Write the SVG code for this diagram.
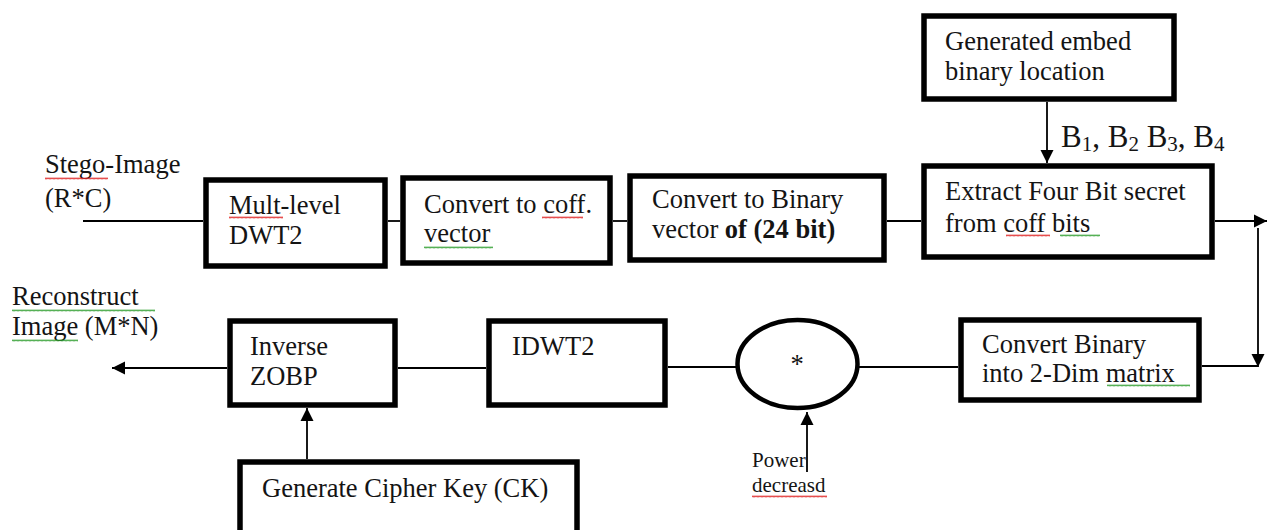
<svg xmlns="http://www.w3.org/2000/svg" width="1269" height="530" viewBox="0 0 1269 530">
<style>
.box{fill:#fff;stroke:#000;stroke-width:5.5}
.ln{fill:none;stroke:#000;stroke-width:1.8}
.t{font-family:"Liberation Serif","Times New Roman",serif;font-size:26.5px;fill:#141414}
.sm{font-size:21px}
.b{font-weight:bold}
</style>
<defs>
<marker id="ah" markerUnits="userSpaceOnUse" markerWidth="14" markerHeight="14" viewBox="0 0 14 14" refX="13" refY="7" orient="auto">
<path d="M0,0.5 L13,7 L0,13.5 z" fill="#000"/>
</marker>
<pattern id="sqR" width="4" height="3" patternUnits="userSpaceOnUse">
<path d="M0,2.4 L1,0.6 L2,2.4 L3,0.6 L4,2.4" fill="none" stroke="#e02020" stroke-width="0.8"/>
</pattern>
<pattern id="sqG" width="4" height="3" patternUnits="userSpaceOnUse">
<path d="M0,2.4 L1,0.6 L2,2.4 L3,0.6 L4,2.4" fill="none" stroke="#2a9a2a" stroke-width="0.8"/>
</pattern>
</defs>

<g id="connectors">
<path class="ln" d="M83,221 H203"/>
<path class="ln" d="M388,221 H400"/>
<path class="ln" d="M613,221 H627"/>
<path class="ln" d="M887,221 H921"/>
<path class="ln" d="M1215,221 H1267" marker-end="url(#ah)"/>
<path class="ln" d="M1258,228 V367" marker-end="url(#ah)"/>
<path class="ln" d="M1202,366 H1258"/>
<path class="ln" d="M859,367 H958"/>
<path class="ln" d="M668,367 H736"/>
<path class="ln" d="M398,368 H486"/>
<path class="ln" d="M227,368 H112" marker-end="url(#ah)"/>
<path class="ln" d="M307,459 V408" marker-end="url(#ah)"/>
<path class="ln" d="M807,472 V412" marker-end="url(#ah)"/>
<path class="ln" d="M1047,102 V163" marker-end="url(#ah)"/>
</g>

<g id="stego-label">
<text class="t" x="45" y="173">Stego-Image</text>
<text class="t" x="45" y="207">(R*C)</text>
<rect x="45" y="177" width="63" height="3" fill="url(#sqR)"/>
</g>

<g id="mult-level-dwt2">
<rect class="box" x="206" y="180" width="179" height="86"/>
<text class="t" x="229" y="214">Mult-level</text>
<text class="t" x="229" y="244">DWT2</text>
<rect x="229" y="216" width="54" height="3" fill="url(#sqR)"/>
</g>

<g id="convert-coff">
<rect class="box" x="403" y="178" width="207" height="85"/>
<text class="t" x="424" y="213">Convert to coff.</text>
<text class="t" x="424" y="242">vector</text>
<rect x="542" y="216" width="41" height="3" fill="url(#sqR)"/>
<rect x="424" y="246" width="69" height="3" fill="url(#sqG)"/>
</g>

<g id="convert-binary">
<rect class="box" x="630" y="176" width="254" height="84"/>
<text class="t" x="652" y="208">Convert to Binary</text>
<text class="t" x="652" y="238">vector <tspan class="b">of (24 bit)</tspan></text>
</g>

<g id="extract-four-bit">
<rect class="box" x="924" y="166" width="288" height="91"/>
<text class="t" x="945" y="200">Extract Four Bit secret</text>
<text class="t" x="945" y="232">from coff bits</text>
<rect x="1006" y="234" width="44" height="3" fill="url(#sqR)"/>
<rect x="1060" y="234" width="40" height="3" fill="url(#sqG)"/>
</g>

<g id="generated-embed">
<rect class="box" x="924" y="16" width="250" height="83"/>
<text class="t" x="945" y="50">Generated embed</text>
<text class="t" x="945" y="80">binary location</text>
</g>

<g id="b-label">
<text class="t" x="1061" y="147" style="font-size:31px">B<tspan dy="4" style="font-size:21px">1</tspan><tspan dy="-4">, B</tspan><tspan dy="4" style="font-size:21px">2</tspan><tspan dy="-4"> B</tspan><tspan dy="4" style="font-size:21px">3</tspan><tspan dy="-4">, B</tspan><tspan dy="4" style="font-size:21px">4</tspan></text>
</g>

<g id="convert-binary-2dim">
<rect class="box" x="961" y="320" width="238" height="80"/>
<text class="t" x="982" y="353">Convert Binary</text>
<text class="t" x="982" y="382">into 2-Dim matrix</text>
<rect x="1107" y="384" width="83" height="3" fill="url(#sqG)"/>
</g>

<g id="multiply">
<ellipse cx="797.5" cy="364" rx="60" ry="44" fill="#fff" stroke="#000" stroke-width="4.5"/>
<text class="t" x="797" y="373" text-anchor="middle">*</text>
</g>

<g id="idwt2">
<rect class="box" x="489" y="321" width="176" height="84"/>
<text class="t" x="512" y="355">IDWT2</text>
</g>

<g id="inverse-zobp">
<rect class="box" x="230" y="321" width="165" height="84"/>
<text class="t" x="250" y="355">Inverse</text>
<text class="t" x="250" y="385">ZOBP</text>
</g>

<g id="reconstruct-label">
<text class="t" x="12" y="305">Reconstruct</text>
<text class="t" x="12" y="335">Image (M*N)</text>
<rect x="12" y="309" width="143" height="3" fill="url(#sqG)"/>
<rect x="12" y="339" width="66" height="3" fill="url(#sqG)"/>
</g>

<g id="cipher-key">
<rect class="box" x="240" y="462" width="337" height="80"/>
<text class="t" x="262" y="497">Generate Cipher Key (CK)</text>
</g>

<g id="power-label">
<text class="t sm" x="752" y="467">Power</text>
<text class="t sm" x="752" y="492">decreasd</text>
<rect x="752" y="495" width="75" height="3" fill="url(#sqR)"/>
</g>
</svg>
